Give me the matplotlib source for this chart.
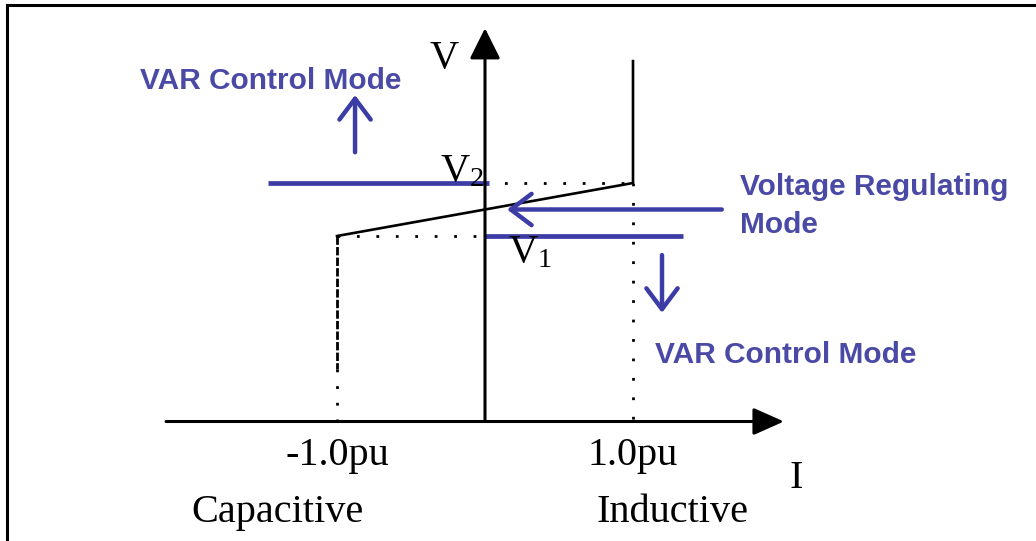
import matplotlib.pyplot as plt
from matplotlib.lines import Line2D

# V-I characteristic (I in pu, V in pu)
I_knee = [-1.0, 1.0]
V1, V_ref, V2 = 0.95, 1.0, 1.05
V_top = 1.28       # where the inductive limit line stops
V_base = 0.60      # level of the I axis
I_ticks = [-1.0, 1.0]
I_tick_labels = ['-1.0pu', '1.0pu']
region_labels = ['Capacitive', 'Inductive']

blue = '#3c3ca6'
blue_txt = '#4a4aa6'
serif = ['Liberation Serif', 'DejaVu Serif']
sans = ['Liberation Sans', 'DejaVu Sans']

plt.rcParams['mathtext.fontset'] = 'custom'
plt.rcParams['mathtext.rm'] = 'Liberation Serif'
plt.rcParams['mathtext.it'] = 'Liberation Serif'

fig = plt.figure(figsize=(10.36, 5.41), dpi=100)
ax = fig.add_axes([0, 0, 1, 1])
ax.set_xlim(-485 / 148, (1036 - 485) / 148)
ax.set_ylim((739.5 - 541) / 530, 739.5 / 530)
ax.axis('off')

# frame (only left and top edges visible)
fig.add_artist(Line2D([0.0068, 0.0068], [0, 0.991], color='black', lw=2.2, transform=fig.transFigure))
fig.add_artist(Line2D([0.0068, 1], [0.991, 0.991], color='black', lw=2.2, transform=fig.transFigure))

# axes with arrow heads
ax.annotate('', xy=(2.02, V_base), xytext=(-2.155, V_base),
            arrowprops=dict(arrowstyle='-|>,head_length=0.9,head_width=0.4', mutation_scale=21,
                            lw=2.2, color='black', shrinkA=0, shrinkB=0))
ax.annotate('', xy=(0, 1.342), xytext=(0, V_base),
            arrowprops=dict(arrowstyle='-|>,head_length=0.9,head_width=0.45', mutation_scale=21,
                            lw=2.2, color='black', shrinkA=0, shrinkB=0))

# characteristic
ax.plot([I_knee[0], I_knee[1], I_knee[1]], [V1, V2, V_top], color='black', lw=1.9)
ax.plot([I_knee[0], I_knee[0]], [V1, 0.70], color='black', lw=2, linestyle=(0, (3, 0.8)))
ax.plot([I_knee[0], I_knee[0]], [0.70, V_base], color='black', lw=2, linestyle=(0, (1, 5)))

# dotted guides
dot = dict(color='black', lw=2, linestyle=(0, (1, 6)))
ax.plot([I_knee[0], 0], [V1, V1], **dot)
ax.plot([0, I_knee[1]], [V2, V2], **dot)
ax.plot([I_knee[1], I_knee[1]], [V2, V_base], **dot)

# blue limit lines
ax.plot([-1.466, 0.03], [V2, V2], color=blue, lw=3.4, solid_capstyle='butt')
ax.plot([0, 1.34], [V1, V1], color=blue, lw=3.4, solid_capstyle='butt')

# blue mode arrows
barb = dict(arrowstyle='->,head_length=0.6,head_width=0.45', mutation_scale=25, lw=3.2,
            color=blue, shrinkA=0, shrinkB=0)
ax.annotate('', xy=(0.149, V_ref), xytext=(1.60, V_ref), arrowprops=barb)
ax.annotate('', xy=(-0.878, 1.216), xytext=(-0.878, 1.108), arrowprops=barb)
ax.annotate('', xy=(1.196, 0.805), xytext=(1.196, 0.914), arrowprops=barb)

# blue text
bt = dict(color=blue_txt, fontsize=21.5, fontweight='bold', family=sans, va='baseline', ha='left')
ax.text(-2.331, 1.227, 'VAR Control Mode', **bt)
ax.text(1.723, 1.027, 'Voltage Regulating', **bt)
ax.text(1.723, 0.956, 'Mode', **bt)
ax.text(1.149, 0.710, 'VAR Control Mode', **bt)

# serif labels
st = dict(color='black', fontsize=29, family=serif, va='baseline')
ax.text(-0.372, 1.267, 'V', ha='left', **st)
ax.text(-0.304, 1.054, r'$\mathrm{V}_2$', ha='left', **st)
ax.text(0.155, 0.901, r'$\mathrm{V}_1$', ha='left', **st)
ax.text(2.06, 0.4745, 'I', ha='left', **st)
for x, lab in zip(I_ticks, I_tick_labels):
    ax.text(x, 0.518, lab, ha='center', **st)
ax.text(-1.40, 0.410, region_labels[0], ha='center', **st)
ax.text(1.264, 0.410, region_labels[1], ha='center', **st)

fig.savefig('out.png', dpi=100)
